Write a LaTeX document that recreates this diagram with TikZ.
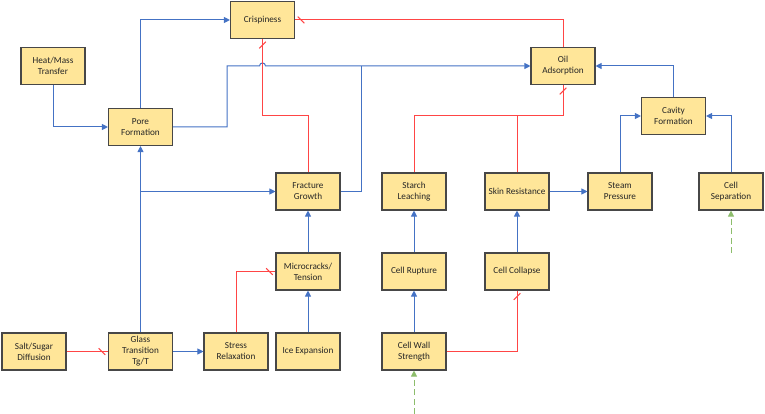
\documentclass[tikz,border=0pt]{standalone}
\usepackage{fontspec}
\setmainfont{Carlito}
\usepackage{tikz}
\usetikzlibrary{arrows.meta}
\definecolor{boxfill}{HTML}{FFE699}
\definecolor{boxline}{HTML}{474747}
\definecolor{linkblue}{HTML}{4472C4}
\definecolor{linkred}{HTML}{FF4545}
\definecolor{linkgreen}{HTML}{70AD47}
\tikzstyle{Factor}=[minimum width=64pt, minimum height=37pt, fill=boxfill, line width=1.1pt, draw=boxline, shape=rectangle, align=center, text=black!85, inner sep=1pt, font=\fontsize{9.2}{11}\selectfont]
\tikzstyle{arrow}=[line width=1pt]
\tikzstyle{tip}=[-{Triangle[length=6pt,width=6pt]}]
\tikzstyle{external}=[line width=1pt, dash pattern=on 6pt off 3.5pt, draw=linkgreen!80]
\tikzset{
	cut h/.pic={\draw [draw=linkred, line width=1pt] (-3.3,-3.3) -- (3.3,3.3);},
	cut v/.pic={\draw [draw=linkred, line width=1pt] (-3.3,3.3) -- (3.3,-3.3);}
}
\pgfdeclarelayer{nodelayer}
\pgfdeclarelayer{edgelayer}
\pgfsetlayers{nodelayer, edgelayer, main}
\begin{document}
\begin{tikzpicture}[x=1pt, y=-1pt]
	\useasboundingbox (0,0) rectangle (765,414);
	\begin{pgfonlayer}{nodelayer}
		\node [style=Factor] (crispiness) at (262.5,20) {Crispiness};
		\node [style=Factor] (heat_transfer) at (53,66) {Heat/Mass\\Transfer};
		\node [style=Factor] (pore_formation) at (140.5,127) {Pore\\Formation};
		\node [style=Factor] (fracture_growth) at (308,191.5) {Fracture\\Growth};
		\node [style=Factor] (oil_adsorption) at (563,66) {Oil\\Adsorption};
		\node [style=Factor] (cavity_formation) at (673.5,116) {Cavity\\Formation};
		\node [style=Factor] (starch_leaching) at (414,191.5) {Starch\\Leaching};
		\node [style=Factor] (skin_resistance) at (517,191.5) {Skin Resistance};
		\node [style=Factor] (steam_pressure) at (620,191.5) {Steam\\Pressure};
		\node [style=Factor] (cell_separation) at (731,191.5) {Cell\\Separation};
		\node [style=Factor] (microcracks) at (308,271.5) {Microcracks/\\Tension};
		\node [style=Factor] (cell_rupture) at (414,271.5) {Cell Rupture};
		\node [style=Factor] (cell_collapse) at (517,271.5) {Cell Collapse};
		\node [style=Factor] (salt_diffusion) at (34,351.5) {Salt/Sugar\\Diffusion};
		\node [style=Factor] (glass_transition) at (140.5,351.5) {Glass\\Transition\\Tg/T};
		\node [style=Factor] (stress_relaxation) at (236,351.5) {Stress\\Relaxation};
		\node [style=Factor] (ice_expansion) at (308,351.5) {Ice Expansion};
		\node [style=Factor] (cell_wall) at (414,351.5) {Cell Wall\\Strength};
		% bends
		\coordinate (pore_bend) at (227,66);
		\coordinate (hop) at (262.5,66);
		\coordinate (fracture_bend) at (361,66);
		\coordinate (crisp_knee) at (262.5,116);
		\coordinate (oil_knee) at (563,116);
		\coordinate (wall_input) at (414,414);
		\coordinate (separation_input) at (731,253);
	\end{pgfonlayer}
	\begin{pgfonlayer}{edgelayer}
		% promoting links
		\draw [style=arrow, style=tip, draw=linkblue] (pore_formation) |- (crispiness);
		\draw [style=arrow, style=tip, draw=linkblue] (heat_transfer) |- (pore_formation);
		\draw [style=arrow, style=tip, draw=linkblue] (pore_formation) -| (pore_bend) -- ([xshift=-3pt]hop) .. controls ([xshift=-3pt, yshift=4pt]hop) and ([xshift=3pt, yshift=4pt]hop) .. ([xshift=3pt]hop) -- (oil_adsorption);
		\draw [style=arrow, draw=linkblue] (fracture_growth) -| (fracture_bend);
		\draw [style=arrow, style=tip, draw=linkblue] (glass_transition) -- (pore_formation);
		\draw [style=arrow, style=tip, draw=linkblue] (pore_formation |- fracture_growth) -- (fracture_growth);
		\draw [style=arrow, style=tip, draw=linkblue] (glass_transition) -- (stress_relaxation);
		\draw [style=arrow, style=tip, draw=linkblue] (ice_expansion) -- (microcracks);
		\draw [style=arrow, style=tip, draw=linkblue] (microcracks) -- (fracture_growth);
		\draw [style=arrow, style=tip, draw=linkblue] (cell_wall) -- (cell_rupture);
		\draw [style=arrow, style=tip, draw=linkblue] (cell_rupture) -- (starch_leaching);
		\draw [style=arrow, style=tip, draw=linkblue] (cell_collapse) -- (skin_resistance);
		\draw [style=arrow, style=tip, draw=linkblue] (skin_resistance) -- (steam_pressure);
		\draw [style=arrow, style=tip, draw=linkblue] (steam_pressure) |- (cavity_formation);
		\draw [style=arrow, style=tip, draw=linkblue] (cell_separation) |- (cavity_formation);
		\draw [style=arrow, style=tip, draw=linkblue] (cavity_formation) |- (oil_adsorption);
		% inhibiting links
		\draw [style=arrow, draw=linkred] (fracture_growth) |- (crisp_knee) -- (crispiness);
		\draw [style=arrow, draw=linkred] (oil_adsorption) |- (crispiness);
		\draw [style=arrow, draw=linkred] (starch_leaching) |- (oil_knee) -- (oil_adsorption);
		\draw [style=arrow, draw=linkred] (skin_resistance) -- (skin_resistance |- oil_knee);
		\draw [style=arrow, draw=linkred] (stress_relaxation) |- (microcracks);
		\draw [style=arrow, draw=linkred] (cell_wall) -| (cell_collapse);
		\draw [style=arrow, draw=linkred] (salt_diffusion) -- (glass_transition);
		\pic at ([yshift=-6pt]crispiness.south) {cut v};
		\pic at ([xshift=6pt]crispiness.east) {cut h};
		\pic at ([yshift=-6pt]oil_adsorption.south) {cut v};
		\pic at ([xshift=-6pt]glass_transition.west) {cut h};
		\pic at ([xshift=-6pt]microcracks.west) {cut h};
		\pic at ([yshift=-6pt]cell_collapse.south) {cut v};
		% outside inputs
		\draw [style=external, style=tip] (wall_input) -- (cell_wall);
		\draw [style=external, style=tip] (separation_input) -- (cell_separation);
	\end{pgfonlayer}
\end{tikzpicture}
\end{document}
